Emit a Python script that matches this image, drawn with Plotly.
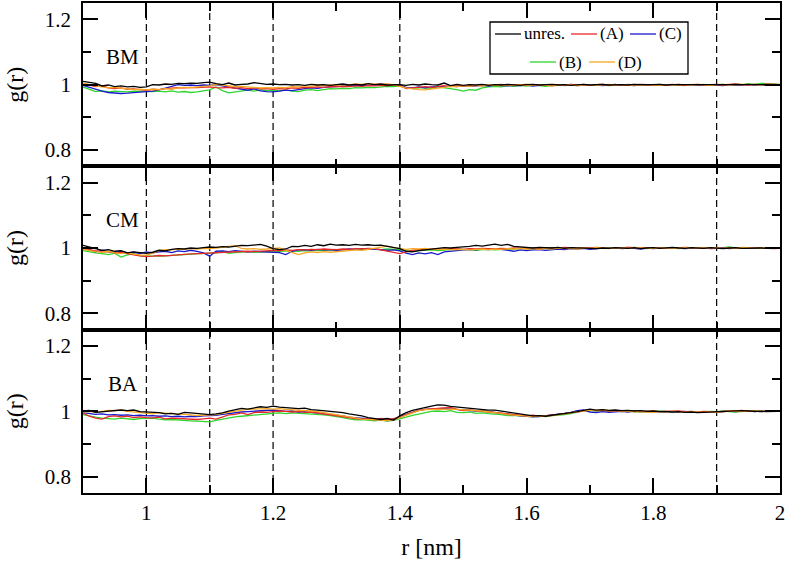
import plotly.graph_objects as go
from plotly.subplots import make_subplots

# ---------------- data ----------------
# r grid (nm), 0.90 ... 2.00 in steps of 0.01
r = [round(0.90 + 0.01 * i, 2) for i in range(111)]

# ---- BM panel ----
bm_unres = [1.010, 1.008, 1.004, 0.996, 0.999, 0.994, 0.996, 0.993, 0.995, 0.992,
            0.993, 1.000, 0.999, 1.002, 1.001, 1.004, 1.003, 1.005, 1.004, 1.006,
            1.008, 1.003, 1.000, 1.005, 0.999, 1.001, 1.002, 1.006, 1.004, 1.001,
            1.002, 1.000, 1.001, 0.999, 1.000, 0.998, 1.001, 0.999, 1.000, 0.998,
            1.000, 1.002, 0.999, 1.001, 0.999, 1.003, 1.000, 1.002, 0.999, 1.000,
            1.000, 0.998, 1.001, 0.999, 1.002, 1.000, 0.999, 1.005, 0.997, 1.001,
            0.998, 1.000, 0.999, 1.001, 0.998, 1.000, 0.999, 1.001, 1.000, 0.998,
            1.000, 1.001, 0.999, 1.000, 1.001, 0.999, 1.000, 0.998, 1.000, 1.001,
            0.999, 1.000, 1.001, 0.999, 1.000, 1.000, 0.999, 1.001, 1.000, 0.999,
            1.000, 1.001, 0.999, 1.000, 1.000, 1.001, 0.999, 1.000, 1.000, 0.999,
            1.000, 1.000, 0.999, 1.001, 1.000, 1.000, 1.001, 0.999, 1.000, 1.000, 1.000]
bm_A = [1.003, 0.998, 0.994, 0.997, 0.990, 0.988, 0.990, 0.986, 0.987, 0.985,
        0.983, 0.986, 0.985, 0.988, 0.990, 0.991, 0.990, 0.992, 0.991, 0.993,
        0.993, 0.991, 0.990, 0.992, 0.989, 0.991, 0.988, 0.990, 0.987, 0.988,
        0.986, 0.988, 0.987, 0.990, 0.989, 0.992, 0.991, 0.993, 0.992, 0.994,
        0.993, 0.995, 0.994, 0.996, 0.995, 0.997, 0.996, 0.998, 0.997, 0.999,
        0.998, 0.988, 0.990, 0.992, 0.994, 0.992, 0.995, 0.997, 0.994, 0.999,
        0.996, 0.998, 0.997, 1.000, 0.998, 0.999, 1.001, 0.998, 1.000, 0.999,
        1.001, 0.998, 1.000, 0.999, 0.997, 1.000, 0.998, 1.001, 0.999, 1.000,
        0.998, 1.000, 1.001, 0.999, 1.000, 0.998, 1.000, 0.999, 1.001, 1.000,
        0.998, 1.000, 0.999, 1.001, 1.000, 0.998, 1.000, 1.001, 0.999, 1.000,
        1.001, 0.999, 1.000, 1.002, 1.000, 0.999, 1.001, 1.000, 1.002, 1.000, 1.000]
bm_B = [0.993, 0.985, 0.979, 0.981, 0.978, 0.980, 0.979, 0.978, 0.980, 0.979,
        0.978, 0.979, 0.980, 0.978, 0.981, 0.977, 0.979, 0.976, 0.978, 0.981,
        0.984, 0.993, 0.982, 0.975, 0.977, 0.979, 0.983, 0.980, 0.984, 0.982,
        0.983, 0.981, 0.984, 0.980, 0.979, 0.983, 0.985, 0.982, 0.986, 0.988,
        0.987, 0.989, 0.988, 0.991, 0.990, 0.992, 0.991, 0.993, 0.995, 0.994,
        0.996, 0.990, 0.988, 0.991, 0.990, 0.989, 0.993, 0.991, 0.988, 0.985,
        0.980, 0.985, 0.983, 0.990, 0.993, 0.995, 0.993, 0.997, 0.995, 0.998,
        0.996, 0.999, 0.997, 0.995, 0.998, 1.000, 0.997, 0.999, 0.998, 1.001,
        0.998, 1.000, 0.999, 0.997, 1.000, 0.998, 1.001, 0.999, 0.998, 1.000,
        0.999, 1.001, 0.998, 1.000, 0.999, 0.997, 1.000, 0.999, 1.001, 0.998,
        1.000, 1.001, 0.999, 1.002, 1.000, 1.003, 1.001, 1.004, 1.003, 1.002, 1.001]
bm_C = [0.998, 0.992, 0.985, 0.980, 0.976, 0.974, 0.973, 0.974, 0.975, 0.976,
        0.977, 0.980, 0.984, 0.990, 0.995, 1.000, 0.998, 0.999, 0.997, 0.999,
        0.998, 1.000, 0.996, 0.993, 0.989, 0.985, 0.983, 0.987, 0.981, 0.979,
        0.978, 0.980, 0.983, 0.982, 0.986, 0.988, 0.990, 0.989, 0.992, 0.994,
        0.995, 0.996, 0.998, 0.997, 0.999, 0.998, 1.000, 0.999, 0.997, 0.999,
        1.000, 0.992, 0.990, 0.993, 0.990, 0.993, 0.995, 0.993, 0.996, 0.994,
        0.997, 0.995, 0.996, 0.998, 0.996, 0.999, 0.997, 0.996, 0.998, 0.997,
        0.999, 0.996, 0.998, 1.000, 0.997, 0.999, 0.998, 1.001, 0.997, 0.999,
        0.998, 1.000, 0.997, 0.999, 1.001, 0.998, 0.999, 0.997, 1.000, 0.998,
        0.999, 1.000, 0.998, 0.999, 1.001, 0.998, 1.000, 0.999, 0.998, 1.000,
        0.999, 0.997, 1.000, 0.998, 0.999, 1.001, 0.999, 1.000, 0.998, 1.000, 1.000]
bm_D = [1.005, 1.000, 0.996, 0.993, 0.990, 0.992, 0.989, 0.987, 0.985, 0.986,
        0.984, 0.986, 0.985, 0.988, 0.986, 0.990, 0.992, 0.991, 0.994, 0.995,
        0.996, 1.001, 0.999, 0.997, 0.994, 0.995, 0.993, 0.992, 0.990, 0.991,
        0.990, 0.992, 0.991, 0.994, 0.993, 0.996, 0.995, 0.998, 0.997, 0.999,
        0.998, 1.000, 0.999, 1.002, 1.001, 1.003, 1.002, 1.001, 1.003, 1.000,
        0.995, 0.990, 0.987, 0.985, 0.984, 0.986, 0.989, 0.992, 0.995, 0.994,
        0.997, 0.995, 0.998, 0.996, 0.999, 0.998, 0.997, 1.000, 0.998, 0.999,
        0.997, 0.999, 1.000, 0.998, 0.996, 0.998, 1.000, 0.999, 0.997, 0.999,
        1.000, 0.998, 0.999, 1.001, 0.999, 1.000, 0.998, 0.999, 1.001, 1.000,
        0.999, 0.998, 1.000, 0.999, 1.001, 1.000, 0.999, 1.001, 1.000, 0.998,
        1.000, 1.001, 0.999, 1.000, 1.002, 1.001, 1.000, 0.999, 1.001, 1.000, 1.000]

# ---- CM panel ----
cm_unres = [1.008, 1.002, 0.998, 0.993, 0.995, 0.990, 0.992, 0.985, 0.988, 0.986,
            0.984, 0.987, 0.993, 0.991, 0.996, 0.998, 0.997, 1.000, 0.999, 1.001,
            1.003, 1.002, 1.004, 1.003, 1.006, 1.008, 1.007, 1.010, 1.011, 1.006,
            0.998, 0.995, 0.997, 1.005, 1.004, 1.008, 1.005, 1.010, 1.007, 1.012,
            1.009, 1.010, 1.008, 1.011, 1.009, 1.010, 1.008, 1.009, 1.005, 1.002,
            0.998, 0.990, 0.988, 0.992, 0.995, 0.998, 0.999, 1.001, 1.000, 1.002,
            1.003, 1.005, 1.008, 1.006, 1.009, 1.012, 1.008, 1.011, 1.005, 1.003,
            1.001, 1.000, 1.002, 1.001, 1.000, 1.002, 0.999, 1.001, 1.000, 0.998,
            0.997, 0.998, 1.000, 0.999, 1.001, 1.000, 0.999, 1.001, 0.998, 1.000,
            1.001, 0.999, 1.000, 1.002, 1.000, 0.999, 1.001, 1.000, 0.999, 1.001,
            1.000, 0.998, 1.000, 1.001, 0.999, 1.000, 1.001, 1.000, 0.999, 1.000, 1.000]
cm_A = [0.998, 0.994, 0.990, 0.988, 0.989, 0.985, 0.987, 0.982, 0.979, 0.976,
        0.974, 0.975, 0.977, 0.976, 0.978, 0.979, 0.981, 0.982, 0.983, 0.984,
        0.985, 0.986, 0.987, 0.988, 0.987, 0.989, 0.990, 0.989, 0.991, 0.992,
        0.993, 0.992, 0.994, 0.993, 0.995, 0.994, 0.996, 0.995, 0.997, 0.996,
        0.995, 0.997, 0.996, 0.998, 0.997, 0.999, 0.998, 0.994, 0.990, 0.985,
        0.983, 0.988, 0.993, 0.995, 0.996, 0.995, 0.997, 0.996, 0.998, 0.997,
        0.996, 0.998, 0.997, 0.999, 0.998, 0.997, 0.999, 0.998, 1.000, 0.999,
        0.998, 1.000, 0.999, 1.001, 1.000, 0.999, 1.002, 1.000, 0.999, 1.001,
        1.000, 1.002, 1.001, 0.999, 1.001, 1.000, 1.002, 1.001, 0.999, 1.000,
        1.001, 1.000, 0.999, 1.001, 1.000, 1.002, 1.001, 1.000, 0.999, 1.001,
        1.000, 0.999, 1.001, 1.000, 0.999, 1.001, 1.000, 0.999, 1.000, 0.998, 0.999]
cm_B = [0.992, 0.988, 0.985, 0.983, 0.980, 0.984, 0.972, 0.979, 0.983, 0.976,
        0.975, 0.974, 0.975, 0.976, 0.978, 0.979, 0.980, 0.981, 0.982, 0.983,
        0.983, 0.985, 0.990, 0.984, 0.986, 0.988, 0.989, 0.987, 0.988, 0.987,
        0.988, 0.989, 0.990, 0.991, 0.990, 0.992, 0.991, 0.993, 0.992, 0.994,
        0.993, 0.995, 0.994, 0.996, 0.995, 0.997, 0.996, 0.995, 0.997, 0.996,
        0.995, 0.991, 0.990, 0.992, 0.993, 0.994, 0.992, 0.994, 0.995, 0.997,
        0.996, 0.994, 0.993, 0.995, 0.996, 0.994, 0.995, 0.997, 0.996, 0.998,
        0.999, 0.997, 1.000, 0.998, 1.002, 0.999, 0.997, 1.000, 0.999, 1.001,
        0.998, 1.000, 0.999, 1.001, 0.999, 1.000, 1.002, 0.999, 1.000, 0.998,
        1.000, 1.001, 0.999, 1.000, 0.998, 1.001, 1.000, 0.999, 1.001, 1.000,
        0.999, 1.001, 1.003, 1.000, 1.001, 0.999, 1.000, 1.001, 1.000, 0.999, 1.000]
cm_C = [0.998, 0.995, 0.988, 0.993, 0.989, 0.986, 0.990, 0.985, 0.987, 0.983,
        0.988, 0.985, 0.988, 0.990, 0.986, 0.991, 0.989, 0.993, 0.990, 0.985,
        0.975, 0.990, 0.991, 0.989, 0.992, 0.990, 0.988, 0.990, 0.989, 0.987,
        0.988, 0.986, 0.980, 0.990, 0.994, 0.995, 0.993, 0.996, 0.994, 0.995,
        0.993, 0.995, 0.997, 0.996, 0.998, 0.996, 0.997, 0.995, 0.993, 0.994,
        0.991, 0.984, 0.980, 0.985, 0.982, 0.986, 0.980, 0.988, 0.990, 0.993,
        0.995, 0.996, 0.994, 0.997, 0.995, 0.998, 0.996, 0.992, 0.990, 0.994,
        0.992, 0.994, 0.995, 0.993, 0.996, 0.997, 0.995, 0.998, 0.997, 0.999,
        0.996, 0.998, 1.000, 0.999, 1.001, 0.998, 1.000, 0.999, 0.997, 1.000,
        0.998, 1.000, 0.999, 1.001, 0.999, 0.998, 1.000, 0.999, 1.001, 0.998,
        0.999, 1.001, 0.998, 1.000, 0.999, 1.001, 1.000, 0.999, 1.001, 1.000, 1.000]
cm_D = [0.996, 0.992, 0.989, 0.987, 0.990, 0.985, 0.983, 0.986, 0.981, 0.979,
        0.978, 0.984, 0.992, 0.995, 0.994, 0.997, 0.996, 0.998, 0.997, 0.999,
        0.998, 1.000, 1.002, 1.004, 1.007, 0.999, 0.997, 0.998, 0.996, 0.997,
        0.998, 1.000, 0.993, 0.986, 0.980, 0.985, 0.988, 0.986, 0.989, 0.987,
        0.988, 0.990, 0.992, 0.994, 0.993, 0.996, 0.999, 1.002, 1.006, 1.001,
        0.998, 0.996, 0.998, 0.997, 0.999, 0.995, 0.996, 0.997, 0.995, 0.996,
        0.995, 0.994, 0.996, 0.997, 0.995, 0.997, 0.996, 0.998, 0.997, 0.999,
        0.997, 0.998, 0.996, 0.999, 0.997, 1.000, 0.998, 0.999, 0.997, 1.000,
        0.999, 1.001, 1.000, 0.998, 1.001, 1.000, 0.999, 1.002, 1.000, 0.999,
        1.000, 0.999, 1.001, 1.000, 0.999, 1.001, 1.000, 0.999, 1.000, 1.001,
        1.000, 0.999, 1.001, 1.000, 1.002, 1.001, 1.000, 0.999, 1.001, 1.000, 1.001]

# ---- BA panel ----
ba_unres = [1.001, 1.003, 0.997, 0.999, 1.001, 1.003, 1.004, 1.002, 1.004, 0.999,
            0.998, 0.997, 0.996, 0.992, 0.994, 0.991, 0.997, 0.995, 0.993, 0.991,
            0.990, 0.992, 0.995, 1.001, 1.006, 1.009, 1.007, 1.011, 1.014, 1.012,
            1.016, 1.013, 1.011, 1.009, 1.008, 1.010, 1.005, 1.004, 1.002, 1.001,
            1.000, 0.996, 0.992, 0.990, 0.986, 0.981, 0.979, 0.975, 0.978, 0.973,
            0.986, 0.996, 1.003, 1.008, 1.012, 1.016, 1.020, 1.019, 1.015, 1.013,
            1.010, 1.008, 1.006, 1.005, 1.004, 1.004, 1.001, 0.998, 0.995, 0.991,
            0.988, 0.986, 0.987, 0.985, 0.988, 0.990, 0.993, 0.996, 0.999, 1.003,
            1.007, 1.004, 1.005, 1.003, 1.004, 1.002, 1.003, 1.001, 1.002, 1.000,
            1.001, 0.999, 1.000, 0.998, 0.999, 0.997, 0.998, 0.996, 0.997, 0.996,
            0.998, 0.999, 1.001, 1.000, 1.002, 1.001, 1.000, 1.001, 0.999, 1.000, 1.000]
ba_A = [0.995, 0.985, 0.979, 0.976, 0.984, 0.986, 0.983, 0.985, 0.981, 0.983,
        0.981, 0.980, 0.982, 0.977, 0.979, 0.978, 0.977, 0.976, 0.975, 0.977,
        0.979, 0.976, 0.982, 0.989, 0.991, 0.995, 0.990, 0.996, 0.998, 0.997,
        0.999, 1.001, 1.000, 0.998, 1.000, 0.997, 0.998, 0.995, 0.991, 0.990,
        0.987, 0.983, 0.980, 0.978, 0.976, 0.977, 0.974, 0.978, 0.975, 0.977,
        0.981, 0.990, 0.997, 1.003, 1.006, 1.008, 1.010, 1.011, 1.012, 1.006,
        1.002, 1.004, 1.001, 1.000, 0.998, 0.996, 0.993, 0.990, 0.989, 0.987,
        0.986, 0.988, 0.985, 0.987, 0.988, 0.991, 0.993, 0.996, 0.999, 1.003,
        1.004, 1.002, 1.003, 1.001, 1.002, 1.000, 1.001, 0.999, 1.001, 1.000,
        1.001, 0.999, 1.000, 1.002, 1.001, 0.999, 1.000, 0.998, 1.000, 0.999,
        0.998, 1.000, 1.002, 1.001, 1.003, 1.000, 1.001, 0.999, 1.001, 1.000, 1.000]
ba_B = [0.990, 0.985, 0.982, 0.979, 0.977, 0.976, 0.979, 0.977, 0.975, 0.978,
        0.978, 0.979, 0.976, 0.974, 0.975, 0.973, 0.972, 0.971, 0.970, 0.969,
        0.968, 0.972, 0.976, 0.980, 0.983, 0.985, 0.987, 0.990, 0.992, 0.993,
        0.994, 0.995, 0.993, 0.995, 0.994, 0.992, 0.993, 0.991, 0.989, 0.987,
        0.985, 0.981, 0.977, 0.974, 0.975, 0.972, 0.971, 0.973, 0.970, 0.972,
        0.976, 0.982, 0.988, 0.992, 0.997, 1.000, 1.001, 0.999, 1.002, 0.997,
        0.996, 0.998, 0.994, 0.995, 0.993, 0.992, 0.990, 0.987, 0.988, 0.986,
        0.985, 0.984, 0.986, 0.984, 0.987, 0.988, 0.990, 0.993, 0.997, 1.002,
        1.003, 1.001, 1.003, 1.000, 1.002, 0.999, 1.001, 1.000, 0.998, 1.000,
        0.999, 1.001, 0.999, 1.000, 0.998, 0.999, 0.997, 0.999, 0.998, 1.000,
        0.999, 1.001, 1.000, 0.998, 1.000, 1.001, 0.999, 1.002, 1.000, 1.001, 1.000]
ba_C = [0.996, 0.994, 0.991, 0.992, 0.989, 0.990, 0.988, 0.989, 0.987, 0.988,
        0.986, 0.987, 0.985, 0.986, 0.984, 0.985, 0.983, 0.985, 0.984, 0.986,
        0.986, 0.988, 0.991, 0.994, 0.996, 0.998, 0.999, 1.000, 1.002, 1.003,
        1.004, 1.002, 1.000, 1.001, 0.998, 0.999, 0.997, 0.995, 0.993, 0.991,
        0.990, 0.986, 0.982, 0.980, 0.977, 0.976, 0.975, 0.974, 0.972, 0.973,
        0.984, 0.991, 0.998, 1.003, 1.006, 1.006, 1.008, 1.009, 1.007, 1.005,
        1.004, 1.003, 1.001, 1.002, 0.999, 0.997, 0.994, 0.991, 0.988, 0.986,
        0.985, 0.983, 0.984, 0.986, 0.989, 0.992, 0.994, 0.997, 1.002, 1.004,
        0.998, 0.996, 0.999, 0.997, 0.999, 1.000, 0.998, 1.001, 0.999, 1.000,
        0.998, 0.999, 0.997, 0.999, 0.998, 1.000, 0.997, 0.999, 0.998, 0.999,
        0.997, 0.999, 1.001, 0.999, 1.000, 1.002, 0.999, 1.001, 1.000, 0.999, 1.000]
ba_D = [0.998, 1.000, 0.997, 1.001, 1.003, 1.002, 1.004, 1.000, 0.998, 0.997,
        0.994, 0.992, 0.996, 0.995, 0.993, 0.991, 0.990, 0.989, 0.987, 0.988,
        0.988, 0.990, 0.994, 0.998, 1.002, 1.004, 1.006, 1.007, 1.006, 1.008,
        1.007, 1.008, 1.006, 1.005, 1.003, 1.004, 1.001, 0.999, 0.996, 0.994,
        0.990, 0.987, 0.983, 0.980, 0.976, 0.975, 0.973, 0.971, 0.972, 0.974,
        0.981, 0.990, 0.996, 1.002, 1.005, 1.006, 1.007, 1.006, 1.007, 1.006,
        1.004, 1.003, 1.002, 1.001, 0.999, 0.997, 0.994, 0.990, 0.988, 0.986,
        0.985, 0.984, 0.986, 0.985, 0.987, 0.990, 0.992, 0.995, 0.998, 1.002,
        1.004, 1.003, 1.005, 1.002, 1.003, 1.001, 1.000, 0.999, 1.000, 0.998,
        0.997, 0.999, 0.998, 1.000, 0.998, 0.997, 0.999, 0.998, 0.997, 0.999,
        0.997, 0.999, 1.001, 1.000, 0.999, 1.001, 1.002, 1.000, 1.001, 0.999, 1.001]

panel_labels = ["BM", "CM", "BA"]
panel_series = [
    {"unres.": bm_unres, "(A)": bm_A, "(B)": bm_B, "(C)": bm_C, "(D)": bm_D},
    {"unres.": cm_unres, "(A)": cm_A, "(B)": cm_B, "(C)": cm_C, "(D)": cm_D},
    {"unres.": ba_unres, "(A)": ba_A, "(B)": ba_B, "(C)": ba_C, "(D)": ba_D},
]
draw_order = ["(B)", "(C)", "(A)", "(D)", "unres."]
series_colors = {"unres.": "#000000", "(A)": "#e8292b", "(B)": "#2fd62f",
                 "(C)": "#1a1acc", "(D)": "#f7a823"}

marker_r = [1.0, 1.1, 1.2, 1.4, 1.9]        # dashed reference lines
x_range = [0.9, 2.0]
y_range = [0.75, 1.25]

FONT = "Liberation Serif"
AX_W = 1.5

# plot-area geometry (pixels) used to place the key box
PLOT_L, PLOT_T, PLOT_W, PLOT_H = 83, 3, 697, 490
def px_x(px):
    return (px - PLOT_L) / PLOT_W
def px_y(py):
    return 1 - (py - PLOT_T) / PLOT_H

# key layout: (series, sample start px, row centre px)
key_entries = [("unres.", 495, 34), ("(A)", 571, 34), ("(C)", 630, 34),
               ("(B)", 530, 62), ("(D)", 589, 62)]
KEY_SAMPLE = 26
KEY_BOX = (490, 22, 688, 74)

# ---------------- figure ----------------
fig = make_subplots(rows=3, cols=1, shared_xaxes=True, vertical_spacing=0)

for p, series in enumerate(panel_series):
    row = p + 1
    for name in draw_order:
        y = series[name]
        fig.add_trace(
            go.Scatter(x=r[:len(y)], y=y, mode="lines", name=name,
                       line=dict(color=series_colors[name], width=1.3),
                       showlegend=False),
            row=row, col=1,
        )

for rv in marker_r:
    fig.add_shape(type="line", xref="x", yref="paper", x0=rv, x1=rv, y0=0, y1=1,
                  line=dict(color="black", width=1.2, dash="7px,4px"), layer="below")

for row in (1, 2, 3):
    fig.update_xaxes(
        range=x_range, showline=True, linecolor="black", linewidth=AX_W, mirror="ticks",
        ticks="inside", ticklen=15, tickwidth=AX_W, tickcolor="black",
        dtick=0.2, showgrid=False, zeroline=False,
        minor=dict(ticks="inside", ticklen=8, tickwidth=AX_W, tickcolor="black",
                   dtick=0.1, showgrid=False),
        tickfont=dict(family=FONT, size=21, color="black"),
        row=row, col=1,
    )
    fig.update_yaxes(
        range=y_range, showline=True, linecolor="black", linewidth=AX_W, mirror="ticks",
        ticks="inside", ticklen=15, tickwidth=AX_W, tickcolor="black",
        dtick=0.2, showgrid=False, zeroline=False,
        minor=dict(ticks="inside", ticklen=8, tickwidth=AX_W, tickcolor="black",
                   dtick=0.1, showgrid=False),
        tickfont=dict(family=FONT, size=21, color="black"), ticklabelstandoff=6,
        title=dict(text="g(r)", font=dict(family=FONT, size=24, color="black"), standoff=14),
        row=row, col=1,
    )

for i in range(3):
    fig.add_annotation(text=panel_labels[i], x=0.963, y=1.085,
                       xref="x" if i == 0 else f"x{i+1}",
                       yref="y" if i == 0 else f"y{i+1}",
                       showarrow=False, font=dict(family=FONT, size=21, color="black"))

fig.update_xaxes(title=dict(text="r [nm]", font=dict(family=FONT, size=24, color="black"),
                            standoff=14), row=3, col=1)

# key box drawn from shapes + text (built-in legend not used)
bx0, by0, bx1, by1 = KEY_BOX
fig.add_shape(type="rect", xref="paper", yref="paper",
              x0=px_x(bx0), x1=px_x(bx1), y0=px_y(by1), y1=px_y(by0),
              line=dict(color="black", width=1.3), fillcolor="white", layer="above")
for name, sx, sy in key_entries:
    fig.add_shape(type="line", xref="paper", yref="paper",
                  x0=px_x(sx), x1=px_x(sx + KEY_SAMPLE), y0=px_y(sy), y1=px_y(sy),
                  line=dict(color=series_colors[name], width=1.3), layer="above")
    fig.add_annotation(text=name, xref="paper", yref="paper",
                       x=px_x(sx + KEY_SAMPLE + 1), y=px_y(sy), xanchor="left",
                       yanchor="middle", showarrow=False,
                       font=dict(family=FONT, size=17, color="black"))

fig.update_layout(
    width=786, height=563,
    margin=dict(l=83, r=6, t=3, b=70, autoexpand=False),
    paper_bgcolor="white", plot_bgcolor="white", showlegend=False,
)

fig.write_html("out.html", config={"displayModeBar": False},
               post_script="document.body.style.margin='0px';document.body.style.overflow='hidden';")
